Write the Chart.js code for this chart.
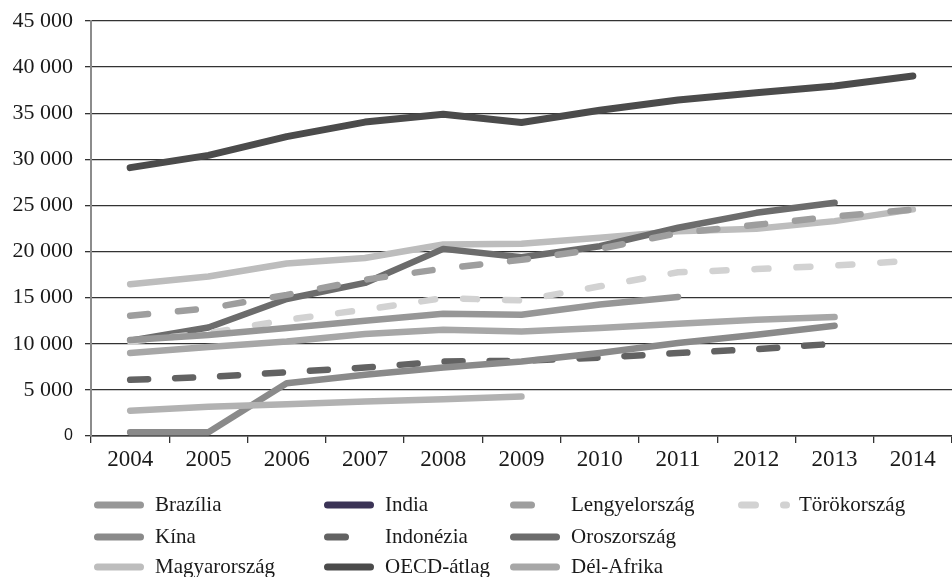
<!DOCTYPE html>
<html>
<head>
<meta charset="utf-8">
<script src="https://cdn.jsdelivr.net/npm/chart.js@4/dist/chart.umd.min.js"></script>
<style>
  html, body { margin: 0; padding: 0; background: #fff; }
  #wrap { width: 952px; height: 577px; }
</style>
</head>
<body>
<div id="wrap"><canvas id="c" width="952" height="577"></canvas></div>
<script>
// Years on the category axis
const years = ['2004','2005','2006','2007','2008','2009','2010','2011','2012','2013','2014'];

// Series values (null = no data for that year)
const brazilia      = [10400, 10950, 11700, 12500, 13250, 13150, 14250, 15080, null, null, null];
const india         = [2750, 3180, 3450, 3730, 3990, 4270, null, null, null, null, null];
const lengyelorszag = [13050, 13850, 15300, 16950, 18150, 19100, 20300, 22000, 22900, 23800, 24550];
const torokorszag   = [10250, 11150, 12600, 13700, 14950, 14700, 16230, 17750, 18100, 18480, 19020];
const kina          = [400, 400, 5730, 6630, 7420, 8080, 8990, 10080, 10980, 11960, null];
const indonezia     = [6090, 6400, 6920, 7420, 8080, 8150, 8500, 8990, 9420, 10000, null];
const oroszorszag   = [10330, 11770, 14860, 16600, 20290, 19380, 20580, 22580, 24200, 25300, null];
const magyarorszag  = [16450, 17300, 18700, 19300, 20760, 20840, 21490, 22210, 22470, 23300, 24570];
const oecdAtlag     = [29100, 30430, 32460, 34040, 34890, 33990, 35320, 36440, 37230, 37950, 39030];
const delAfrika     = [8990, 9640, 10250, 11050, 11520, 11340, 11710, 12170, 12610, 12900, null];

// Value-axis range
const yMin = 0, yMax = 45000, yStep = 5000;

const SERIF = '"Liberation Serif", "Times New Roman", serif';

function series(label, data, color, dash, legendColor) {
  return {
    label, data,
    borderColor: color,
    backgroundColor: color,
    legendColor: legendColor || color,
    borderWidth: 6.5,
    borderDash: dash || [],
    borderCapStyle: 'round',
    borderJoinStyle: 'round',
    pointRadius: 0,
    pointHoverRadius: 0,
    tension: 0,
    fill: false,
    spanGaps: false
  };
}

const datasets = [
  series('Brazília', brazilia, '#979797'),
  series('India', india, '#b2b2b2', null, '#3b3356'),
  series('Lengyelország', lengyelorszag, '#9e9e9e', [18, 30]),
  series('Törökország', torokorszag, '#d2d2d2', [14, 28]),
  series('Kína', kina, '#8a8a8a'),
  series('Indonézia', indonezia, '#626262', [18, 27]),
  series('Oroszország', oroszorszag, '#6c6c6c'),
  series('Magyarország', magyarorszag, '#bdbdbd'),
  series('OECD-átlag', oecdAtlag, '#4b4b4b'),
  series('Dél-Afrika', delAfrika, '#a7a7a7')
];
// OECD line is drawn a touch heavier
datasets[8].borderWidth = 7;

// Legend laid out in fixed columns below the plot
const columnLegend = {
  id: 'columnLegend',
  afterDraw(chart) {
    const ctx = chart.ctx;
    const colX = [94, 324, 510, 738];
    const rowY = [505, 537, 567];
    const sets = chart.data.datasets;
    ctx.save();
    sets.forEach((ds, i) => {
      const col = i < 4 ? i : (i - 4) % 3;
      const row = i < 4 ? 0 : (i < 7 ? 1 : 2);
      const x = colX[col] + 3.5, y = rowY[row];
      ctx.beginPath();
      ctx.lineWidth = 7;
      ctx.lineCap = 'round';
      ctx.strokeStyle = ds.legendColor;
      ctx.setLineDash(ds.borderDash || []);
      ctx.moveTo(x, y);
      ctx.lineTo(x + (ds.label === 'Törökország' ? 45 : 43), y);
      ctx.stroke();
      ctx.setLineDash([]);
      ctx.fillStyle = '#1a1a1a';
      ctx.font = '21px ' + SERIF;
      ctx.textAlign = 'left';
      ctx.textBaseline = 'middle';
      ctx.fillText(ds.label, colX[col] + 61, y);
    });
    ctx.restore();
  }
};

function fmt(v) {
  return String(v).replace(/\B(?=(\d{3})+(?!\d))/g, ' ');
}

new Chart(document.getElementById('c'), {
  type: 'line',
  data: { labels: years, datasets },
  plugins: [columnLegend],
  options: {
    responsive: false,
    animation: false,
    layout: { padding: { top: 21, right: 0, bottom: 96, left: 0 } },
    plugins: {
      legend: { display: false },
      tooltip: { enabled: false }
    },
    scales: {
      x: {
        type: 'category',
        offset: true,
        grid: {
          offset: true,
          drawOnChartArea: false,
          drawTicks: true,
          tickLength: 7,
          tickColor: '#333',
          lineWidth: 1.3
        },
        border: { display: true, color: '#333', width: 1.5 },
        ticks: {
          color: '#1a1a1a',
          font: { family: SERIF, size: 23 },
          padding: 3,
          maxRotation: 0,
          autoSkip: false
        },
        afterFit(scale) {
          scale.height = 45;
          scale.paddingLeft = 0;
          scale.paddingRight = 0;
        }
      },
      y: {
        min: yMin,
        max: yMax,
        grid: {
          color: '#333',
          lineWidth: 1.3,
          tickLength: 6,
          tickColor: '#333'
        },
        border: { display: true, color: '#8c8c8c', width: 2 },
        ticks: {
          stepSize: yStep,
          color: '#1a1a1a',
          padding: 12,
          font: (ctx) => ctx.tick && ctx.tick.value === 0
            ? { family: '"Liberation Sans", Arial, sans-serif', size: 16 }
            : { family: SERIF, size: 22 },
          callback: (v) => fmt(v)
        },
        afterFit(scale) {
          scale.width = 91;
          scale.paddingTop = 0;
          scale.paddingBottom = 0;
        }
      }
    }
  }
});
</script>
</body>
</html>
